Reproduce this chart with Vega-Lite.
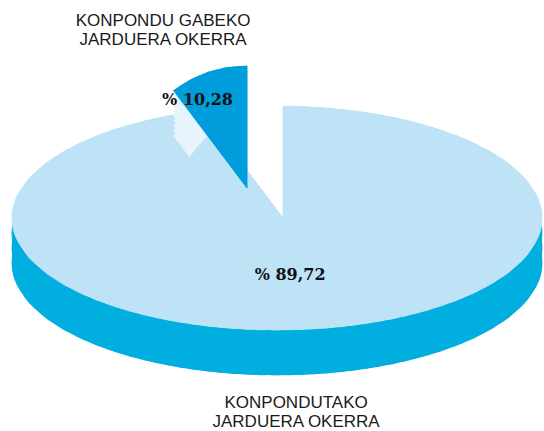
{
  "$schema": "https://vega.github.io/schema/vega-lite/v6.json",
  "width": 534,
  "height": 426,
  "padding": {"left": 10, "top": 5, "right": 0, "bottom": 0},
  "autosize": {"type": "none"},
  "background": "white",
  "config": {"view": {"stroke": null}, "arc": {"strokeWidth": 1}},
  "data": {
    "values": [
      {"cat": "KONPONDUTAKO\nJARDUERA OKERRA", "value": 89.72, "label": "% 89,72"},
      {"cat": "KONPONDU GABEKO\nJARDUERA OKERRA", "value": 10.28, "label": "% 10,28"}
    ]
  },
  "encoding": {
    "theta": {"field": "value", "type": "quantitative", "stack": true},
    "order": {"field": "value", "type": "quantitative", "sort": "descending"}
  },
  "layer": [
    {"mark": {"type": "arc", "outerRadius": 48.97, "xOffset": -216, "yOffset": 15, "fill": "#00AEE0", "stroke": "#00AEE0"}},
    {"mark": {"type": "arc", "outerRadius": 48.97, "xOffset": -216, "yOffset": 30, "fill": "#00AEE0", "stroke": "#00AEE0"}},
    {"mark": {"type": "arc", "outerRadius": 48.97, "xOffset": 216, "yOffset": 15, "fill": "#00AEE0", "stroke": "#00AEE0"}},
    {"mark": {"type": "arc", "outerRadius": 48.97, "xOffset": 216, "yOffset": 30, "fill": "#00AEE0", "stroke": "#00AEE0"}},
    {"mark": {"type": "arc", "outerRadius": 60.22, "xOffset": -202.5, "yOffset": 15, "fill": "#00AEE0", "stroke": "#00AEE0"}},
    {"mark": {"type": "arc", "outerRadius": 60.22, "xOffset": -202.5, "yOffset": 30, "fill": "#00AEE0", "stroke": "#00AEE0"}},
    {"mark": {"type": "arc", "outerRadius": 60.22, "xOffset": 202.5, "yOffset": 15, "fill": "#00AEE0", "stroke": "#00AEE0"}},
    {"mark": {"type": "arc", "outerRadius": 60.22, "xOffset": 202.5, "yOffset": 30, "fill": "#00AEE0", "stroke": "#00AEE0"}},
    {"mark": {"type": "arc", "outerRadius": 69.11, "xOffset": -189, "yOffset": 15, "fill": "#00AEE0", "stroke": "#00AEE0"}},
    {"mark": {"type": "arc", "outerRadius": 69.11, "xOffset": -189, "yOffset": 30, "fill": "#00AEE0", "stroke": "#00AEE0"}},
    {"mark": {"type": "arc", "outerRadius": 69.11, "xOffset": 189, "yOffset": 15, "fill": "#00AEE0", "stroke": "#00AEE0"}},
    {"mark": {"type": "arc", "outerRadius": 69.11, "xOffset": 189, "yOffset": 30, "fill": "#00AEE0", "stroke": "#00AEE0"}},
    {"mark": {"type": "arc", "outerRadius": 76.46, "xOffset": -175.5, "yOffset": 22, "fill": "#00AEE0", "stroke": "#00AEE0"}},
    {"mark": {"type": "arc", "outerRadius": 76.46, "xOffset": 175.5, "yOffset": 22, "fill": "#00AEE0", "stroke": "#00AEE0"}},
    {"mark": {"type": "arc", "outerRadius": 82.68, "xOffset": -162, "yOffset": 22, "fill": "#00AEE0", "stroke": "#00AEE0"}},
    {"mark": {"type": "arc", "outerRadius": 82.68, "xOffset": 162, "yOffset": 22, "fill": "#00AEE0", "stroke": "#00AEE0"}},
    {"mark": {"type": "arc", "outerRadius": 48.97, "xOffset": -216, "yOffset": 45, "fill": "#00AEE0", "stroke": "#00AEE0"}},
    {"mark": {"type": "arc", "outerRadius": 60.22, "xOffset": -202.5, "yOffset": 45, "fill": "#00AEE0", "stroke": "#00AEE0"}},
    {"mark": {"type": "arc", "outerRadius": 69.11, "xOffset": -189, "yOffset": 45, "fill": "#00AEE0", "stroke": "#00AEE0"}},
    {"mark": {"type": "arc", "outerRadius": 76.46, "xOffset": -175.5, "yOffset": 45, "fill": "#00AEE0", "stroke": "#00AEE0"}},
    {"mark": {"type": "arc", "outerRadius": 82.68, "xOffset": -162, "yOffset": 45, "fill": "#00AEE0", "stroke": "#00AEE0"}},
    {"mark": {"type": "arc", "outerRadius": 88.02, "xOffset": -148.5, "yOffset": 45, "fill": "#00AEE0", "stroke": "#00AEE0"}},
    {"mark": {"type": "arc", "outerRadius": 92.63, "xOffset": -135, "yOffset": 45, "fill": "#00AEE0", "stroke": "#00AEE0"}},
    {"mark": {"type": "arc", "outerRadius": 96.61, "xOffset": -121.5, "yOffset": 45, "fill": "#00AEE0", "stroke": "#00AEE0"}},
    {"mark": {"type": "arc", "outerRadius": 100.04, "xOffset": -108, "yOffset": 45, "fill": "#00AEE0", "stroke": "#00AEE0"}},
    {"mark": {"type": "arc", "outerRadius": 102.97, "xOffset": -94.5, "yOffset": 45, "fill": "#00AEE0", "stroke": "#00AEE0"}},
    {"mark": {"type": "arc", "outerRadius": 105.44, "xOffset": -81, "yOffset": 45, "fill": "#00AEE0", "stroke": "#00AEE0"}},
    {"mark": {"type": "arc", "outerRadius": 107.49, "xOffset": -67.5, "yOffset": 45, "fill": "#00AEE0", "stroke": "#00AEE0"}},
    {"mark": {"type": "arc", "outerRadius": 109.13, "xOffset": -54, "yOffset": 45, "fill": "#00AEE0", "stroke": "#00AEE0"}},
    {"mark": {"type": "arc", "outerRadius": 110.4, "xOffset": -40.5, "yOffset": 45, "fill": "#00AEE0", "stroke": "#00AEE0"}},
    {"mark": {"type": "arc", "outerRadius": 111.29, "xOffset": -27, "yOffset": 45, "fill": "#00AEE0", "stroke": "#00AEE0"}},
    {"mark": {"type": "arc", "outerRadius": 111.82, "xOffset": -13.5, "yOffset": 45, "fill": "#00AEE0", "stroke": "#00AEE0"}},
    {"mark": {"type": "arc", "outerRadius": 112, "xOffset": 0, "yOffset": 45, "fill": "#00AEE0", "stroke": "#00AEE0"}},
    {"mark": {"type": "arc", "outerRadius": 111.82, "xOffset": 13.5, "yOffset": 45, "fill": "#00AEE0", "stroke": "#00AEE0"}},
    {"mark": {"type": "arc", "outerRadius": 111.29, "xOffset": 27, "yOffset": 45, "fill": "#00AEE0", "stroke": "#00AEE0"}},
    {"mark": {"type": "arc", "outerRadius": 110.4, "xOffset": 40.5, "yOffset": 45, "fill": "#00AEE0", "stroke": "#00AEE0"}},
    {"mark": {"type": "arc", "outerRadius": 109.13, "xOffset": 54, "yOffset": 45, "fill": "#00AEE0", "stroke": "#00AEE0"}},
    {"mark": {"type": "arc", "outerRadius": 107.49, "xOffset": 67.5, "yOffset": 45, "fill": "#00AEE0", "stroke": "#00AEE0"}},
    {"mark": {"type": "arc", "outerRadius": 105.44, "xOffset": 81, "yOffset": 45, "fill": "#00AEE0", "stroke": "#00AEE0"}},
    {"mark": {"type": "arc", "outerRadius": 102.97, "xOffset": 94.5, "yOffset": 45, "fill": "#00AEE0", "stroke": "#00AEE0"}},
    {"mark": {"type": "arc", "outerRadius": 100.04, "xOffset": 108, "yOffset": 45, "fill": "#00AEE0", "stroke": "#00AEE0"}},
    {"mark": {"type": "arc", "outerRadius": 96.61, "xOffset": 121.5, "yOffset": 45, "fill": "#00AEE0", "stroke": "#00AEE0"}},
    {"mark": {"type": "arc", "outerRadius": 92.63, "xOffset": 135, "yOffset": 45, "fill": "#00AEE0", "stroke": "#00AEE0"}},
    {"mark": {"type": "arc", "outerRadius": 88.02, "xOffset": 148.5, "yOffset": 45, "fill": "#00AEE0", "stroke": "#00AEE0"}},
    {"mark": {"type": "arc", "outerRadius": 82.68, "xOffset": 162, "yOffset": 45, "fill": "#00AEE0", "stroke": "#00AEE0"}},
    {"mark": {"type": "arc", "outerRadius": 76.46, "xOffset": 175.5, "yOffset": 45, "fill": "#00AEE0", "stroke": "#00AEE0"}},
    {"mark": {"type": "arc", "outerRadius": 69.11, "xOffset": 189, "yOffset": 45, "fill": "#00AEE0", "stroke": "#00AEE0"}},
    {"mark": {"type": "arc", "outerRadius": 60.22, "xOffset": 202.5, "yOffset": 45, "fill": "#00AEE0", "stroke": "#00AEE0"}},
    {"mark": {"type": "arc", "outerRadius": 48.97, "xOffset": 216, "yOffset": 45, "fill": "#00AEE0", "stroke": "#00AEE0"}},
    {"mark": {"type": "arc", "outerRadius": 48.97, "xOffset": -216, "fill": "#BEE3F6", "stroke": "#BEE3F6"}},
    {"mark": {"type": "arc", "outerRadius": 60.22, "xOffset": -202.5, "fill": "#BEE3F6", "stroke": "#BEE3F6"}},
    {"mark": {"type": "arc", "outerRadius": 69.11, "xOffset": -189, "fill": "#BEE3F6", "stroke": "#BEE3F6"}},
    {"mark": {"type": "arc", "outerRadius": 76.46, "xOffset": -175.5, "fill": "#BEE3F6", "stroke": "#BEE3F6"}},
    {"mark": {"type": "arc", "outerRadius": 82.68, "xOffset": -162, "fill": "#BEE3F6", "stroke": "#BEE3F6"}},
    {"mark": {"type": "arc", "outerRadius": 88.02, "xOffset": -148.5, "fill": "#BEE3F6", "stroke": "#BEE3F6"}},
    {"mark": {"type": "arc", "outerRadius": 92.63, "xOffset": -135, "fill": "#BEE3F6", "stroke": "#BEE3F6"}},
    {"mark": {"type": "arc", "outerRadius": 96.61, "xOffset": -121.5, "fill": "#BEE3F6", "stroke": "#BEE3F6"}},
    {"mark": {"type": "arc", "outerRadius": 100.04, "xOffset": -108, "fill": "#BEE3F6", "stroke": "#BEE3F6"}},
    {"mark": {"type": "arc", "outerRadius": 102.97, "xOffset": -94.5, "fill": "#BEE3F6", "stroke": "#BEE3F6"}},
    {"mark": {"type": "arc", "outerRadius": 105.44, "xOffset": -81, "fill": "#BEE3F6", "stroke": "#BEE3F6"}},
    {"mark": {"type": "arc", "outerRadius": 107.49, "xOffset": -67.5, "fill": "#BEE3F6", "stroke": "#BEE3F6"}},
    {"mark": {"type": "arc", "outerRadius": 109.13, "xOffset": -54, "fill": "#BEE3F6", "stroke": "#BEE3F6"}},
    {"mark": {"type": "arc", "outerRadius": 110.4, "xOffset": -40.5, "fill": "#BEE3F6", "stroke": "#BEE3F6"}},
    {"mark": {"type": "arc", "outerRadius": 111.29, "xOffset": -27, "fill": "#BEE3F6", "stroke": "#BEE3F6"}},
    {"mark": {"type": "arc", "outerRadius": 111.82, "xOffset": -13.5, "fill": "#BEE3F6", "stroke": "#BEE3F6"}},
    {"mark": {"type": "arc", "outerRadius": 112, "xOffset": 0, "fill": "#BEE3F6", "stroke": "#BEE3F6"}},
    {"mark": {"type": "arc", "outerRadius": 111.82, "xOffset": 13.5, "fill": "#BEE3F6", "stroke": "#BEE3F6"}},
    {"mark": {"type": "arc", "outerRadius": 111.29, "xOffset": 27, "fill": "#BEE3F6", "stroke": "#BEE3F6"}},
    {"mark": {"type": "arc", "outerRadius": 110.4, "xOffset": 40.5, "fill": "#BEE3F6", "stroke": "#BEE3F6"}},
    {"mark": {"type": "arc", "outerRadius": 109.13, "xOffset": 54, "fill": "#BEE3F6", "stroke": "#BEE3F6"}},
    {"mark": {"type": "arc", "outerRadius": 107.49, "xOffset": 67.5, "fill": "#BEE3F6", "stroke": "#BEE3F6"}},
    {"mark": {"type": "arc", "outerRadius": 105.44, "xOffset": 81, "fill": "#BEE3F6", "stroke": "#BEE3F6"}},
    {"mark": {"type": "arc", "outerRadius": 102.97, "xOffset": 94.5, "fill": "#BEE3F6", "stroke": "#BEE3F6"}},
    {"mark": {"type": "arc", "outerRadius": 100.04, "xOffset": 108, "fill": "#BEE3F6", "stroke": "#BEE3F6"}},
    {"mark": {"type": "arc", "outerRadius": 96.61, "xOffset": 121.5, "fill": "#BEE3F6", "stroke": "#BEE3F6"}},
    {"mark": {"type": "arc", "outerRadius": 92.63, "xOffset": 135, "fill": "#BEE3F6", "stroke": "#BEE3F6"}},
    {"mark": {"type": "arc", "outerRadius": 88.02, "xOffset": 148.5, "fill": "#BEE3F6", "stroke": "#BEE3F6"}},
    {"mark": {"type": "arc", "outerRadius": 82.68, "xOffset": 162, "fill": "#BEE3F6", "stroke": "#BEE3F6"}},
    {"mark": {"type": "arc", "outerRadius": 76.46, "xOffset": 175.5, "fill": "#BEE3F6", "stroke": "#BEE3F6"}},
    {"mark": {"type": "arc", "outerRadius": 69.11, "xOffset": 189, "fill": "#BEE3F6", "stroke": "#BEE3F6"}},
    {"mark": {"type": "arc", "outerRadius": 60.22, "xOffset": 202.5, "fill": "#BEE3F6", "stroke": "#BEE3F6"}},
    {"mark": {"type": "arc", "outerRadius": 48.97, "xOffset": 216, "fill": "#BEE3F6", "stroke": "#BEE3F6"}},
    {"mark": {"type": "arc", "outerRadius": 140, "xOffset": 6, "fill": "#FFFFFF", "stroke": "#FFFFFF"},
     "encoding": {"opacity": {"condition": {"test": "datum.value < 50", "value": 1}, "value": 0}}},
    {"mark": {"type": "arc", "outerRadius": 122, "xOffset": -30, "yOffset": -25, "fill": "#E7F4FB", "stroke": "#E7F4FB"},
     "encoding": {"opacity": {"condition": {"test": "datum.value < 50", "value": 1}, "value": 0}}},
    {"mark": {"type": "arc", "outerRadius": 122, "xOffset": -30, "yOffset": -20, "fill": "#E7F4FB", "stroke": "#E7F4FB"},
     "encoding": {"opacity": {"condition": {"test": "datum.value < 50", "value": 1}, "value": 0}}},
    {"mark": {"type": "arc", "outerRadius": 122, "xOffset": -30, "yOffset": -15, "fill": "#E7F4FB", "stroke": "#E7F4FB"},
     "encoding": {"opacity": {"condition": {"test": "datum.value < 50", "value": 1}, "value": 0}}},
    {"mark": {"type": "arc", "outerRadius": 122, "xOffset": -30, "yOffset": -10, "fill": "#E7F4FB", "stroke": "#E7F4FB"},
     "encoding": {"opacity": {"condition": {"test": "datum.value < 50", "value": 1}, "value": 0}}},
    {"mark": {"type": "arc", "outerRadius": 122, "xOffset": -30, "yOffset": -5, "fill": "#E7F4FB", "stroke": "#E7F4FB"},
     "encoding": {"opacity": {"condition": {"test": "datum.value < 50", "value": 1}, "value": 0}}},
    {"mark": {"type": "arc", "outerRadius": 122, "xOffset": -30, "yOffset": 0, "fill": "#E7F4FB", "stroke": "#E7F4FB"},
     "encoding": {"opacity": {"condition": {"test": "datum.value < 50", "value": 1}, "value": 0}}},
    {"mark": {"type": "arc", "outerRadius": 122, "xOffset": -30, "yOffset": 5, "fill": "#E7F4FB", "stroke": "#E7F4FB"},
     "encoding": {"opacity": {"condition": {"test": "datum.value < 50", "value": 1}, "value": 0}}},
    {"mark": {"type": "arc", "outerRadius": 122, "xOffset": -30, "yOffset": 10, "fill": "#E7F4FB", "stroke": "#E7F4FB"},
     "encoding": {"opacity": {"condition": {"test": "datum.value < 50", "value": 1}, "value": 0}}},
    {"mark": {"type": "arc", "outerRadius": 122, "xOffset": -30, "yOffset": 15, "fill": "#E7F4FB", "stroke": "#E7F4FB"},
     "encoding": {"opacity": {"condition": {"test": "datum.value < 50", "value": 1}, "value": 0}}},
    {"mark": {"type": "arc", "outerRadius": 111, "xOffset": 6, "fill": "#BEE3F6", "stroke": "#BEE3F6"},
     "encoding": {"opacity": {"condition": {"test": "datum.value < 50", "value": 0}, "value": 1}}},
    {"mark": {"type": "arc", "outerRadius": 122, "xOffset": -30, "yOffset": -30, "fill": "#009DDC", "stroke": "#009DDC"},
     "encoding": {"opacity": {"condition": {"test": "datum.value < 50", "value": 1}, "value": 0}}},
    {"mark": {"type": "text", "radius": 92.8, "xOffset": -30, "yOffset": -30, "dx": -20, "font": "DejaVu Serif", "fontWeight": "bold", "fontSize": 16, "fill": "#111111"},
     "encoding": {"text": {"field": "label"}, "opacity": {"condition": {"test": "datum.value < 50", "value": 1}, "value": 0}}},
    {"mark": {"type": "text", "radius": 60.1, "dx": -6, "font": "DejaVu Serif", "fontWeight": "bold", "fontSize": 16, "fill": "#111111"},
     "encoding": {"text": {"field": "label"}, "opacity": {"condition": {"test": "datum.value < 50", "value": 0}, "value": 1}}},
    {"mark": {"type": "text", "radius": 176.2, "xOffset": -30, "yOffset": -30, "dx": -28, "font": "Liberation Sans", "fontSize": 17, "lineHeight": 19.5, "lineBreak": "\n", "fill": "#1a1a1a"},
     "encoding": {"text": {"field": "cat"}, "opacity": {"condition": {"test": "datum.value < 50", "value": 1}, "value": 0}}},
    {"mark": {"type": "text", "radius": 195.6, "dx": -43, "font": "Liberation Sans", "fontSize": 17, "lineHeight": 19, "lineBreak": "\n", "fill": "#1a1a1a"},
     "encoding": {"text": {"field": "cat"}, "opacity": {"condition": {"test": "datum.value < 50", "value": 0}, "value": 1}}}
  ]
}
